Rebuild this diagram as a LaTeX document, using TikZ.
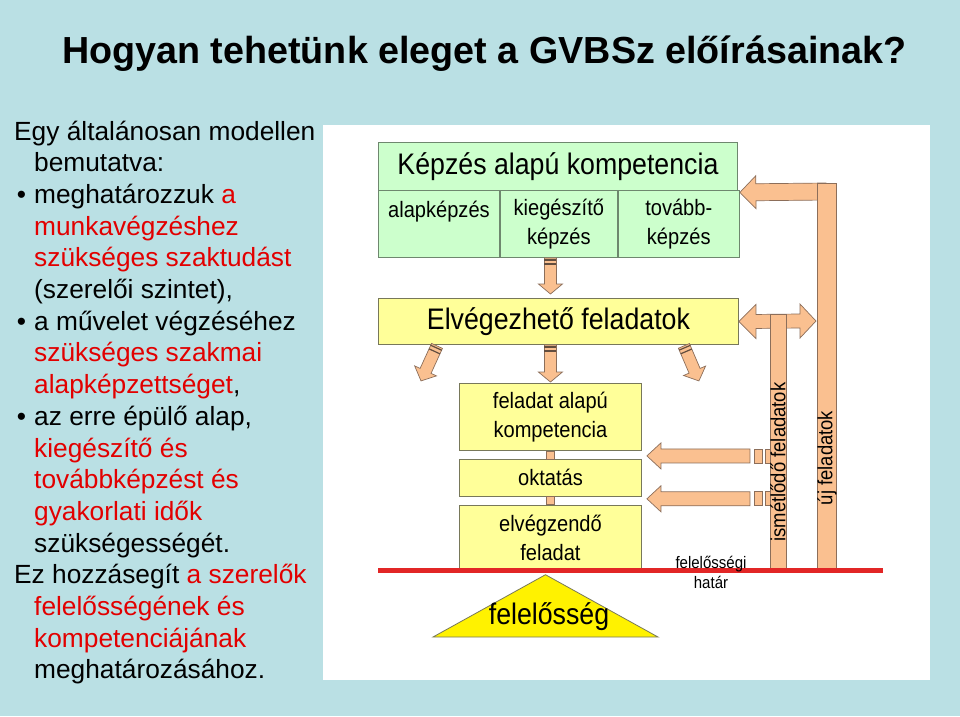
\documentclass[tikz,border=0pt]{standalone}
\usepackage{fontspec}
\setmainfont{Liberation Sans}
\newfontfamily\narrowsf[FakeStretch=0.9]{Liberation Sans}
\usetikzlibrary{calc, positioning}

\definecolor{bgblue}{RGB}{186,224,228}
\definecolor{txtred}{RGB}{226,0,0}
\definecolor{arrfill}{RGB}{250,192,144}
\definecolor{arrline}{RGB}{140,110,90}
\definecolor{greenfill}{RGB}{204,255,204}
\definecolor{greenline}{RGB}{110,135,110}
\definecolor{yellowfill}{RGB}{255,255,153}
\definecolor{yellowline}{RGB}{120,120,90}
\definecolor{borderred}{RGB}{226,38,38}

\newcommand\bul{\llap{\textbullet\hspace{8pt}}}
% block arrow: tail, tip, shaft half width, head half width, head length
\newcommand\blockarrow[5]{%
  \draw[blockarrow] let \p1=(#1), \p2=(#2),
      \n1={atan2(\y2-\y1,\x2-\x1)}, \n2={veclen(\x2-\x1,\y2-\y1)-#5} in
    (\p1) ++(\n1+90:#3pt) -- ++(\n1:\n2) -- ++(\n1+90:#4pt-#3pt) -- (\p2)
    -- ($(\p1)+(\n1:\n2)+(\n1-90:#4pt)$) -- ++(\n1+90:#4pt-#3pt) -- ++(\n1+180:\n2) -- cycle;}
\newcommand\tailbands[3]{%
  \foreach \bandpos in {2,6}
    \draw[bandline] let \p1=(#1), \p2=(#2), \n1={atan2(\y2-\y1,\x2-\x1)} in
      ($(\p1)+(\n1:\bandpos pt)+(\n1+90:#3pt)$) -- ($(\p1)+(\n1:\bandpos pt)+(\n1-90:#3pt)$);}

\begin{document}
\begin{tikzpicture}[x=1pt,y=-1pt,
  lefttext/.style={anchor=base west, inner sep=0pt, font=\fontsize{26.3}{31.7}\selectfont},
  box/.style={draw, line width=0.9pt, inner sep=0pt, anchor=north west, align=center},
  greenbox/.style={box, fill=greenfill, draw=greenline},
  yellowbox/.style={box, fill=yellowfill, draw=yellowline},
  bigtext/.style={font=\narrowsf\fontsize{29.7}{32}\selectfont},
  midtext/.style={font=\narrowsf\fontsize{22.3}{29}\selectfont},
  smalltext/.style={font=\narrowsf\fontsize{16.7}{20}\selectfont},
  sidetext/.style={font=\narrowsf\fontsize{20.5}{22}\selectfont, rotate=90, inner sep=0pt},
  blockarrow/.style={fill=arrfill, draw=arrline, line width=0.7pt, line join=miter},
  bandline/.style={draw=arrline!70!black, line width=1.2pt},
  hatarline/.style={draw=borderred, line width=5pt},
  felelos/.style={fill=yellow, draw=yellowline, line width=0.8pt}]

\useasboundingbox (0,0) rectangle (960,716);
\fill[bgblue] (0,0) rectangle (960,716);
\fill[white] (323,125) rectangle (930,680);

\node[anchor=base west, inner sep=0pt, font=\bfseries\fontsize{37.7}{40}\selectfont] (title) at (62,63)
  {Hogyan tehetünk eleget a GVBSz előírásainak?};

\foreach \lx/\ltext [count=\i] in {
  14/{Egy általánosan modellen},
  34/{bemutatva:},
  34/{\bul meghatározzuk \textcolor{txtred}{a}},
  34/{\textcolor{txtred}{munkavégzéshez}},
  34/{\textcolor{txtred}{szükséges szaktudást}},
  34/{(szerelői szintet),},
  34/{\bul a művelet végzéséhez},
  34/{\textcolor{txtred}{szükséges szakmai}},
  34/{\textcolor{txtred}{alapképzettséget},},
  34/{\bul az erre épülő alap,},
  34/{\textcolor{txtred}{kiegészítő és}},
  34/{\textcolor{txtred}{továbbképzést és}},
  34/{\textcolor{txtred}{gyakorlati idők}},
  34/{szükségességét.},
  14/{Ez hozzásegít \textcolor{txtred}{a szerelők}},
  34/{\textcolor{txtred}{felelősségének és}},
  34/{\textcolor{txtred}{kompetenciájának}},
  34/{meghatározásához.}}
  \node[lefttext] (line\i) at (\lx, {108.3+31.7*\i}) {\ltext};

% competence boxes
\node[greenbox, bigtext, minimum width=359pt, minimum height=48pt] (kepzes) at (378,142) {Képzés alapú kompetencia};
\node[greenbox, midtext, minimum width=121pt, minimum height=67pt] (alap) at (378,190) {alapképzés\\~};
\node[greenbox, midtext, minimum width=117pt, minimum height=67pt, right=0pt of alap] (kieg) {kiegészítő\\képzés};
\node[greenbox, midtext, minimum width=121pt, minimum height=67pt, right=0pt of kieg] (tovabb) {tovább-\\képzés};

\node[yellowbox, bigtext, minimum width=360pt, minimum height=46pt] (elv) at (378,298) {Elvégezhető feladatok};
\node[yellowbox, midtext, minimum width=182pt, minimum height=67pt] (feladat) at (459,383) {feladat alapú\\kompetencia};
\node[yellowbox, midtext, minimum width=182pt, minimum height=37pt, below=8pt of feladat] (oktatas) {oktatás};
\node[yellowbox, midtext, minimum width=182pt, minimum height=65pt, below=8pt of oktatas] (elvegz) {elvégzendő\\feladat};

\draw[blockarrow] ($(feladat.south)+(-4,0)$) rectangle ($(oktatas.north)+(4,0)$);
\draw[blockarrow] ($(oktatas.south)+(-4,0)$) rectangle ($(elvegz.north)+(4,0)$);

% arrows between the boxes
\coordinate (topa) at (kieg.south -| feladat.north);
\coordinate (topb) at ($(elv.north -| feladat.north)+(0,-4)$);
\blockarrow{topa}{topb}{6}{12}{10}
\tailbands{topa}{topb}{6}
\coordinate (mida) at (elv.south -| feladat.north);
\coordinate (midb) at ($(feladat.north)+(0,-1)$);
\blockarrow{mida}{midb}{6}{12}{10}
\tailbands{mida}{midb}{6}
\coordinate (lefta) at ($(elv.south west)+(59,1)$);
\coordinate (leftb) at ($(elv.south west)+(43,36)$);
\blockarrow{lefta}{leftb}{6}{12}{11}
\tailbands{lefta}{leftb}{6}
\coordinate (righta) at ($(elv.south east)+(-55,1)$);
\coordinate (rightb) at ($(elv.south east)+(-40,36)$);
\blockarrow{righta}{rightb}{6}{12}{11}
\tailbands{righta}{rightb}{6}

% new tasks
\coordinate (ujarrow) at (826,191.5);
\coordinate (kepzestip) at ($(kepzes.south east)+(2,1.5)$);
\blockarrow{ujarrow}{kepzestip}{8.5}{16.5}{16}
\coordinate (ujtop) at (817,183);
\coordinate (ujbot) at (836,570);
\draw[blockarrow] (ujtop) rectangle (ujbot);

% repeated tasks
\coordinate (dl) at (elv.east);
\coordinate (dr) at (816,321);
\draw[blockarrow] (dl) -- ($(dl)+(17,-17)$) -- ($(dl)+(17,-7)$) -- ($(dr)+(-16,-7)$) -- ($(dr)+(-16,-17)$)
  -- (dr) -- ($(dr)+(-16,17)$) -- ($(dr)+(-16,7)$) -- ($(dl)+(17,7)$) -- ($(dl)+(17,17)$) -- cycle;
\coordinate (ismtop) at (770,314);
\coordinate (ismbot) at (786,570);
\draw[blockarrow] (ismtop) rectangle (ismbot);

\foreach \bx/\dy in {feladat/5, oktatas/2} {
  \coordinate (\bx tip) at ($(\bx.south east)+(5,\dy)$);
  \coordinate (\bx tail) at ($(\bx.south east)+(108,\dy)$);
  \blockarrow{\bx tail}{\bx tip}{7}{13}{14}
  \draw[blockarrow] ($(\bx tail)+(4,-7)$) rectangle ($(\bx tail)+(12,7)$);
  \draw[blockarrow] ($(\bx tail)+(15,-7)$) rectangle ($(\bx tail)+(20,7)$);
}

\node[sidetext] (ismlabel) at (778,462) {ismétlődő feladatok};
\node[sidetext] (ujlabel) at (827,458) {új feladatok};

% responsibility limit
\coordinate (hatarL) at (378,570.5);
\coordinate (hatarR) at (883,570.5);
\draw[hatarline] (hatarL) -- (hatarR);
\node[smalltext, align=center, inner sep=0pt] (hatar) at (711,572) {felelősségi\\határ};

\coordinate (apex) at ($(elvegz.south)+(-5,4)$);
\coordinate (baseL) at (433,637);
\coordinate (baseR) at (658,637);
\draw[felelos] (apex) -- (baseL) -- (baseR) -- cycle;
\node[bigtext, inner sep=0pt] (felelosseg) at (549,617) {felelősség};

\end{tikzpicture}
\end{document}
